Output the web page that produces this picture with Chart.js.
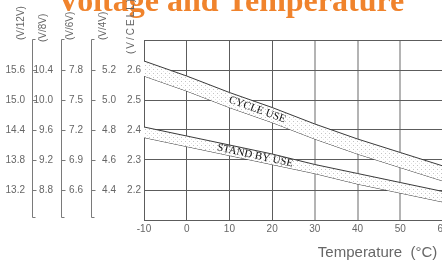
<!DOCTYPE html>
<html>
<head>
<meta charset="utf-8">
<script src="https://cdn.jsdelivr.net/npm/chart.js@4/dist/chart.umd.min.js"></script>
<style>
  html, body { margin: 0; padding: 0; background: #fff; overflow: hidden; }
  #wrap { width: 442px; height: 262px; overflow: hidden; position: relative; }
  #chart { position: absolute; left: 0; top: 0; }
</style>
</head>
<body>
<div id="wrap"><canvas id="chart" width="480" height="262"></canvas></div>
<script>
// temperature (°C) and charge voltage per cell
const temps = [-10, 0, 10, 20, 30, 40, 50, 60];
const cycleHigh = [2.63, 2.58, 2.525, 2.475, 2.42, 2.37, 2.325, 2.28];
const cycleLow = [2.58, 2.53, 2.475, 2.425, 2.37, 2.32, 2.275, 2.23];
const standbyHigh = [2.41, 2.38, 2.35, 2.32, 2.285, 2.255, 2.225, 2.195];
const standbyLow = [2.375, 2.345, 2.315, 2.285, 2.255, 2.22, 2.19, 2.16];

const chartTitle = 'Voltage and Temperature';
const xTitle = 'Temperature  (\u00b0C)';
const bandNames = ['CYCLE USE', 'STAND BY USE'];
const bandLabelAt = [16.5, 16];

// left axes: per cell and for 4V, 6V, 8V, 12V batteries
const cellRange = [2.1, 2.7];
const axisDefs = [
  { id: 'y12', title: '(V/12V)', mult: 6, step: 0.6 },
  { id: 'y8', title: '(V/8V)', mult: 4, step: 0.4 },
  { id: 'y6', title: '(V/6V)', mult: 3, step: 0.3 },
  { id: 'y4', title: '(V/4V)', mult: 2, step: 0.2 }
];

const gridDark = '#5c5c5c';
const gridLight = '#b4b4b4';
const textGrey = '#666';
const tickFont = { family: 'Liberation Sans', size: 10 };

// dotted fill for the bands
const pc = document.createElement('canvas');
pc.width = 4; pc.height = 4;
const pctx = pc.getContext('2d');
pctx.fillStyle = '#fff';
pctx.fillRect(0, 0, 4, 4);
pctx.fillStyle = '#c4c4c4';
pctx.fillRect(1, 1, 1, 1);
pctx.fillStyle = '#e2e2e2';
pctx.fillRect(3, 3, 1, 1);
const dots = document.createElement('canvas').getContext('2d').createPattern(pc, 'repeat');

const pts = (ys) => temps.map((t, i) => ({ x: t, y: ys[i] }));

const lineStyle = { borderColor: '#3a3a3a', borderWidth: 1, pointRadius: 0, tension: 0 };

// widths / label padding of the stacked left axes
const boxW = { y12: 32, y8: 29, y6: 30, y4: 33, y: 20 };
const boxPad = { y12: 7, y8: 8, y6: 8, y4: 8, y: 3 };

const scales = {
  x: {
    type: 'linear', min: -10, max: 60,
    ticks: { stepSize: 10, color: textGrey, font: tickFont, padding: 3 },
    grid: {
      drawTicks: false,
      color: (c) => (c.tick && c.tick.value >= 30 ? gridLight : gridDark),
      lineWidth: (c) => (c.tick && c.tick.value >= 30 ? 2 : 1)
    },
    border: { color: gridDark },
    afterFit: (s) => { s.height = 42; }
  },
  y: {
    position: 'left', weight: 1, min: cellRange[0], max: cellRange[1],
    ticks: {
      stepSize: 0.1, color: textGrey, font: tickFont, padding: boxPad.y,
      callback: (v, i, arr) => (i === 0 || i === arr.length - 1 ? '' : Number(v).toFixed(1))
    },
    grid: { drawTicks: false, color: gridDark },
    border: { color: gridDark },
    afterFit: (s) => { s.width = boxW.y; }
  }
};
axisDefs.forEach((a, k) => {
  scales[a.id] = {
    position: 'left', weight: 5 - k,
    min: +(cellRange[0] * a.mult).toFixed(2), max: +(cellRange[1] * a.mult).toFixed(2),
    ticks: {
      stepSize: a.step, color: textGrey, font: tickFont, padding: boxPad[a.id],
      callback: (v, i, arr) => (i === 0 || i === arr.length - 1 ? '' : Number(v).toFixed(1))
    },
    grid: { display: false, drawTicks: false },
    border: { display: false },
    afterFit: (s) => { s.width = boxW[a.id]; }
  };
});

const decor = {
  id: 'decor',
  afterDraw(chart) {
    const ctx = chart.ctx;
    const area = chart.chartArea;
    const xs = chart.scales.x, ys = chart.scales.y;
    ctx.save();

    // big orange heading (cut by the top edge)
    ctx.fillStyle = '#f0832c';
    ctx.font = 'bold 32px "Liberation Serif"';
    ctx.textAlign = 'left';
    ctx.textBaseline = 'alphabetic';
    ctx.fillText(chartTitle, 57, 11);

    // x axis title, running past the right edge
    ctx.fillStyle = textGrey;
    ctx.font = '15px "Liberation Sans"';
    ctx.fillText(xTitle, xs.getPixelForValue(30) + 3, 257);

    // brackets for 8V, 6V, 4V axes
    ctx.strokeStyle = '#7a7a7a';
    ctx.lineWidth = 1;
    axisDefs.slice(1).forEach((a) => {
      const s = chart.scales[a.id];
      const x = Math.round(s.left) + 0.5;
      const top = Math.round(area.top) - 0.5;
      const bot = Math.round(area.bottom) - 2.5;
      ctx.beginPath();
      ctx.moveTo(x + 3, top); ctx.lineTo(x, top); ctx.lineTo(x, bot); ctx.lineTo(x + 3, bot);
      s.ticks.forEach((t, i) => {
        if (i === 0 || i === s.ticks.length - 1) return;
        const y = Math.round(s.getPixelForValue(t.value)) + 0.5;
        ctx.moveTo(x, y); ctx.lineTo(x + 4, y);
      });
      ctx.stroke();
    });

    // rotated axis titles
    ctx.fillStyle = textGrey;
    ctx.textBaseline = 'middle';
    ctx.textAlign = 'left';
    const titles = [
      { id: 'y12', text: axisDefs[0].title, dx: 21, bottom: 40, size: 10, sp: 0 },
      { id: 'y8', text: axisDefs[1].title, dx: 11, bottom: 42, size: 10, sp: 0 },
      { id: 'y6', text: axisDefs[2].title, dx: 9, bottom: 40, size: 10, sp: 0 },
      { id: 'y4', text: axisDefs[3].title, dx: 12, bottom: 40, size: 10, sp: 0 },
      { id: 'y', text: '(V/CELL)', dx: 7, bottom: 54, size: 10, sp: 2 }
    ];
    titles.forEach((t) => {
      const s = chart.scales[t.id];
      ctx.save();
      ctx.translate(s.left + t.dx, t.bottom);
      ctx.rotate(-Math.PI / 2);
      ctx.font = t.size + 'px "Liberation Sans"';
      ctx.letterSpacing = t.sp + 'px';
      ctx.fillText(t.text, 0, 0);
      ctx.restore();
    });

    // band names along the bands
    const bands = [[cycleHigh, cycleLow], [standbyHigh, standbyLow]];
    const midAt = (band, t) => {
      let i = 0;
      while (i < temps.length - 2 && t > temps[i + 1]) i++;
      const f = (t - temps[i]) / (temps[i + 1] - temps[i]);
      const hi = band[0][i] + f * (band[0][i + 1] - band[0][i]);
      const lo = band[1][i] + f * (band[1][i + 1] - band[1][i]);
      return (hi + lo) / 2;
    };
    ctx.fillStyle = '#111';
    ctx.font = '11px "Liberation Serif"';
    ctx.textAlign = 'center';
    ctx.textBaseline = 'middle';
    bands.forEach((band, k) => {
      const t = bandLabelAt[k];
      const px = xs.getPixelForValue(t), py = ys.getPixelForValue(midAt(band, t));
      const ax = xs.getPixelForValue(t - 8), ay = ys.getPixelForValue(midAt(band, t - 8));
      const bx = xs.getPixelForValue(t + 8), by = ys.getPixelForValue(midAt(band, t + 8));
      ctx.save();
      ctx.translate(px, py);
      ctx.rotate(Math.atan2(by - ay, bx - ax));
      ctx.fillText(bandNames[k], 0, 0);
      ctx.restore();
    });
    ctx.restore();
  }
};

new Chart(document.getElementById('chart'), {
  type: 'line',
  data: {
    datasets: [
      Object.assign({ data: pts(cycleHigh), fill: '+1', backgroundColor: dots }, lineStyle),
      Object.assign({ data: pts(cycleLow), fill: false }, lineStyle),
      Object.assign({ data: pts(standbyHigh), fill: '+1', backgroundColor: dots }, lineStyle),
      Object.assign({ data: pts(standbyLow), fill: false }, lineStyle)
    ]
  },
  options: {
    responsive: false,
    animation: false,
    devicePixelRatio: 1,
    layout: { padding: { left: 0, top: 40, right: 37, bottom: 0 } },
    plugins: { legend: { display: false }, tooltip: { enabled: false }, title: { display: false } },
    scales: scales
  },
  plugins: [decor]
});
</script>
</body>
</html>
